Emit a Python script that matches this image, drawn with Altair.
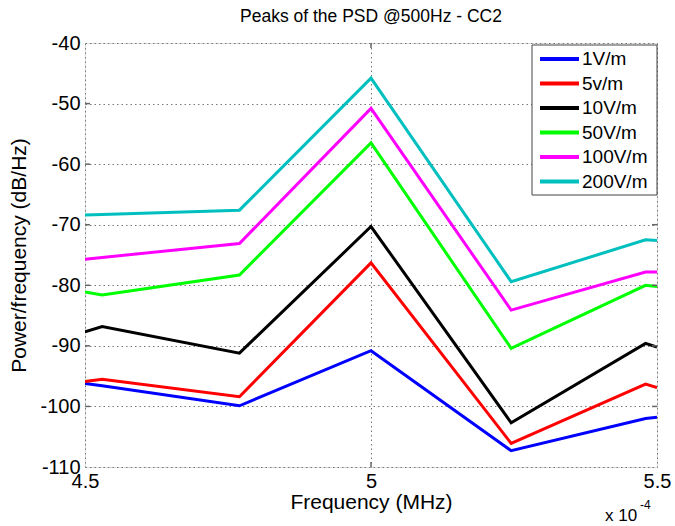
import altair as alt
import pandas as pd

freq = [4.5, 4.53, 4.77, 5.0, 5.245, 5.48, 5.5]
series_names = ["1V/m", "5v/m", "10V/m", "50V/m", "100V/m", "200V/m"]
v1 = [-96.2, -96.6, -99.9, -90.8, -107.3, -102.0, -101.8]
v5 = [-95.9, -95.5, -98.4, -76.3, -106.1, -96.3, -96.9]
v10 = [-87.7, -86.8, -91.2, -70.3, -102.7, -89.6, -90.2]
v50 = [-81.1, -81.6, -78.3, -56.5, -90.4, -80.0, -80.2]
v100 = [-75.7, -75.4, -73.1, -50.8, -84.1, -77.8, -77.8]
v200 = [-68.4, -68.3, -67.6, -45.8, -79.4, -72.5, -72.6]
colors = ["#0000FF", "#FF0000", "#000000", "#00FF00", "#FF00FF", "#00BFBF"]
y_ticks = [-110, -100, -90, -80, -70, -60, -50, -40]
x_ticks = [4.5, 5.0, 5.5]

rows = []
for name, vals in zip(series_names, [v1, v5, v10, v50, v100, v200]):
    for i, (f, v) in enumerate(zip(freq, vals)):
        rows.append({"freq": f, "psd": v, "series": name, "order": i})
df = pd.DataFrame(rows)

FONT = "Liberation Sans"
XSCALE = alt.Scale(domain=[4.5, 5.5], nice=False, zero=False)
YSCALE = alt.Scale(domain=[-110, -40], nice=False, zero=False)
CSCALE = alt.Scale(domain=series_names, range=colors)
XAXIS = alt.Axis(values=x_ticks, title="Frequency (MHz)",
                 labelExpr="'' + datum.value",
                 labelFontSize=20, titleFontSize=21,
                 labelFont=FONT, titleFont=FONT,
                 labelColor="#000", titleColor="#000",
                 titleFontWeight="normal",
                 labelPadding=4, titlePadding=0,
                 ticks=False, domain=False,
                 grid=True, gridDash=[1.5, 3], gridColor="#777",
                 gridWidth=1, labelFlush=False)

lines = alt.Chart(df).mark_line(strokeWidth=3, clip=True).encode(
    x=alt.X("freq:Q", scale=XSCALE, axis=XAXIS),
    y=alt.Y("psd:Q", scale=YSCALE,
            axis=alt.Axis(values=y_ticks,
                          title="Power/frequency (dB/Hz)",
                          labelExpr="'' + datum.value",
                          labelFontSize=20, titleFontSize=21,
                          labelFont=FONT, titleFont=FONT,
                          labelColor="#000", titleColor="#000",
                          titleFontWeight="normal",
                          labelPadding=5, titlePadding=10,
                          ticks=False, domain=False,
                          grid=True, gridDash=[1.5, 3], gridColor="#777",
                          gridWidth=1)),
    color=alt.Color("series:N", scale=CSCALE, legend=None),
    order="order:Q",
)

# inward tick marks (MATLAB style) on the frame
yt_df = pd.DataFrame({"v": y_ticks[1:-1]})
ytick_left = alt.Chart(yt_df).mark_rule(color="#666", strokeWidth=1.5).encode(
    y=alt.Y("v:Q", scale=YSCALE, axis=None), x=alt.value(0), x2=alt.value(5))
ytick_right = alt.Chart(yt_df).mark_rule(color="#666", strokeWidth=1.5).encode(
    y=alt.Y("v:Q", scale=YSCALE, axis=None), x=alt.value(567), x2=alt.value(572))
xt_df = pd.DataFrame({"freq": [5.0]})
xtick_top = alt.Chart(xt_df).mark_rule(color="#666", strokeWidth=1.5).encode(
    x=alt.X("freq:Q", scale=XSCALE, axis=XAXIS), y=alt.value(0), y2=alt.value(5))
xtick_bot = alt.Chart(xt_df).mark_rule(color="#666", strokeWidth=1.5).encode(
    x=alt.X("freq:Q", scale=XSCALE, axis=XAXIS), y=alt.value(419), y2=alt.value(424))

# legend drawn by hand
box_df = pd.DataFrame({"k": [0]})
legend_box = alt.Chart(box_df).mark_rect(
    fill="white", stroke="#444", strokeWidth=1
).encode(x=alt.value(447), x2=alt.value(572), y=alt.value(2), y2=alt.value(152))

leg_df = pd.DataFrame({"series": series_names})
LEG_Y = alt.Y("series:N", sort=series_names,
              scale=alt.Scale(type="point", domain=series_names,
                              range=[16, 138.5], padding=0),
              axis=None)
legend_sym = alt.Chart(leg_df).mark_rule(strokeWidth=4).encode(
    y=LEG_Y, x=alt.value(455), x2=alt.value(494),
    color=alt.Color("series:N", scale=CSCALE, legend=None))
legend_txt = alt.Chart(leg_df).mark_text(
    font=FONT, fontSize=19, color="#000", align="left", baseline="middle"
).encode(y=LEG_Y, x=alt.value(497), text="series:N")

note_df = pd.DataFrame({"t": ["x 10"]})
note = alt.Chart(note_df).mark_text(
    font=FONT, fontSize=17, color="#000", align="left", baseline="middle"
).encode(x=alt.value(520), y=alt.value(473), text="t:N")
sup_df = pd.DataFrame({"t": ["-4"]})
sup = alt.Chart(sup_df).mark_text(
    font=FONT, fontSize=12, color="#000", align="left", baseline="middle"
).encode(x=alt.value(555), y=alt.value(462), text="t:N")

chart = alt.layer(
    lines, ytick_left, ytick_right, xtick_top, xtick_bot,
    legend_box, legend_sym, legend_txt, note, sup
).resolve_scale(y="independent").properties(
    width=572, height=424,
    title=alt.TitleParams("Peaks of the PSD @500Hz - CC2", font=FONT,
                          fontSize=17.5, fontWeight="normal", color="#000",
                          anchor="middle", offset=8),
    autosize=alt.AutoSizeParams(type="none"),
    padding={"left": 85, "top": 43, "right": 18, "bottom": 59},
).configure_view(stroke="#777", strokeWidth=2).configure(background="white")

chart.save("out.html", embed_options={"renderer": "svg", "actions": False})
